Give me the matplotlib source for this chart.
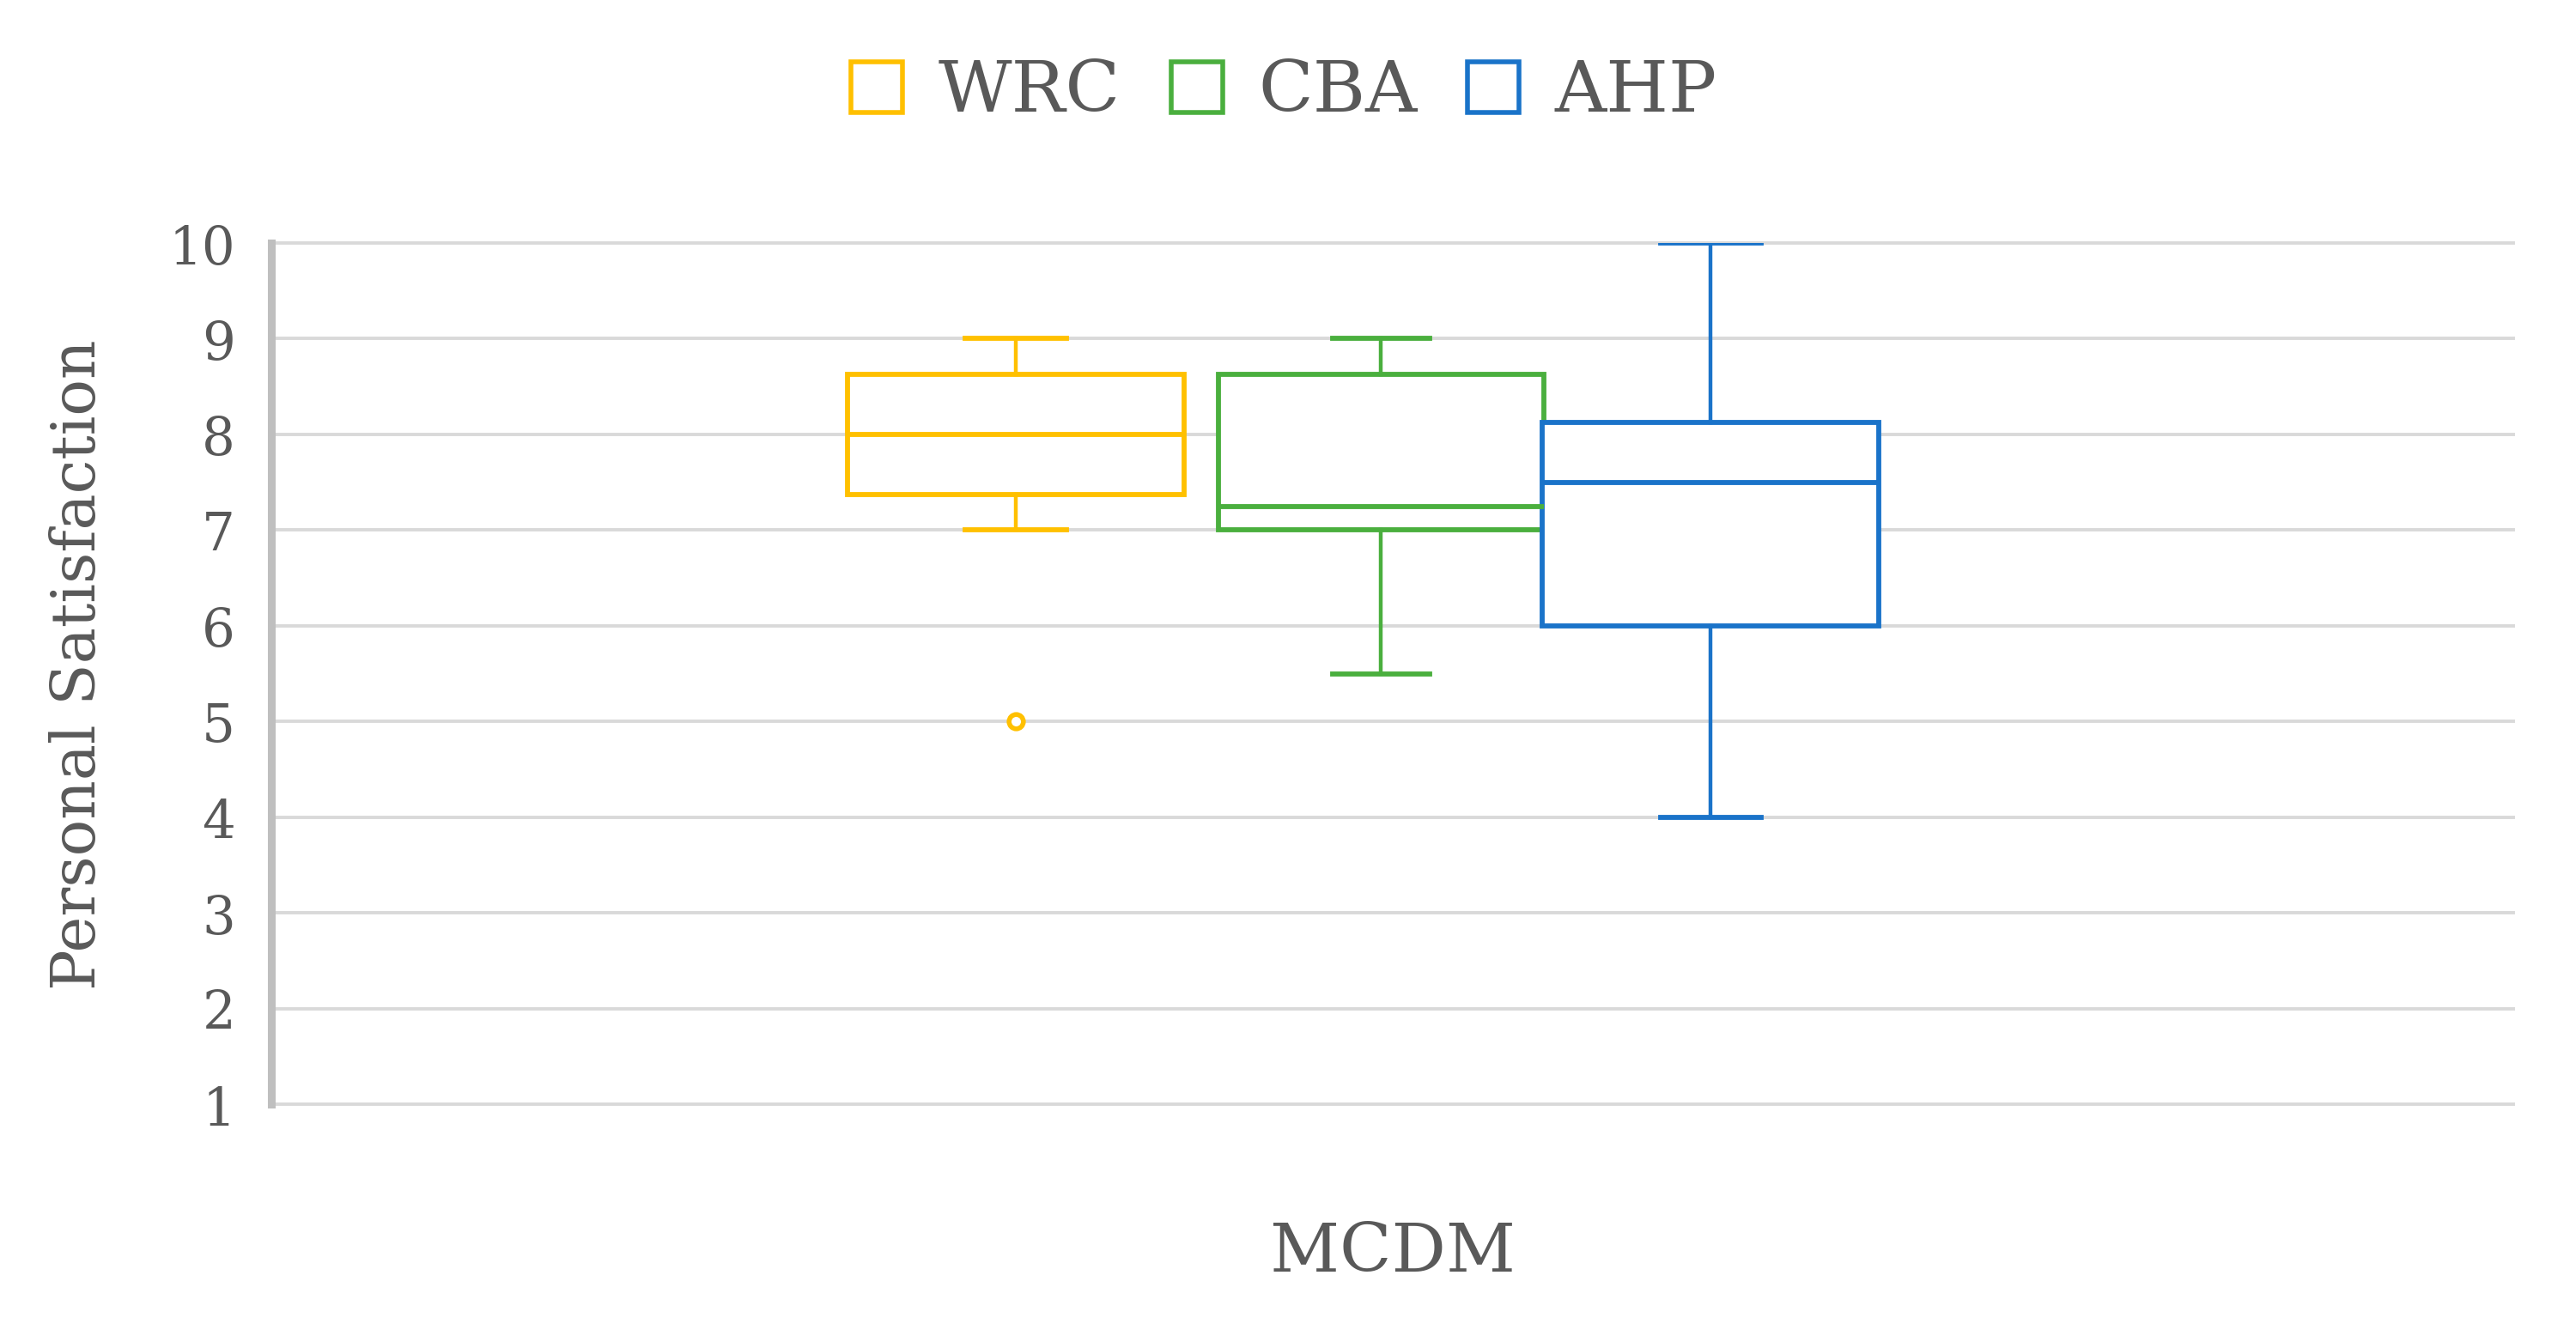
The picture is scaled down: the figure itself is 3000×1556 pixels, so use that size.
import matplotlib
matplotlib.use("Agg")
import matplotlib.pyplot as plt
from matplotlib.patches import Patch

# ---- data ----
categories = ["WRC", "CBA", "AHP"]
whisker_low = [7.0, 5.5, 4.0]
quartile_1 = [7.375, 7.0, 6.0]
medians = [8.0, 7.25, 7.5]
quartile_3 = [8.625, 8.625, 8.125]
whisker_high = [9.0, 9.0, 10.0]
outliers = [[5.0], [], []]
y_ticks = [1, 2, 3, 4, 5, 6, 7, 8, 9, 10]
x_label = "MCDM"
y_label = "Personal Satisfaction"

# ---- style / layout ----
colors = ["#FFC000", "#4AAF3E", "#1A73C9"]
positions = [0.332, 0.495, 0.642]
widths = [0.150, 0.145, 0.150]
text_color = "#595959"
font = "DejaVu Serif"

fig = plt.figure(figsize=(30, 15.56), dpi=100)
ax = fig.add_axes([0.1053, 0.1735, 0.8704, 0.6446])

stats = []
for i, name in enumerate(categories):
    stats.append(dict(label=name, whislo=whisker_low[i], q1=quartile_1[i],
                      med=medians[i], q3=quartile_3[i], whishi=whisker_high[i],
                      fliers=outliers[i]))

for i, st in enumerate(stats):
    c = colors[i]
    ax.bxp([st], positions=[positions[i]], widths=[widths[i]],
           capwidths=[widths[i] * 0.3], showfliers=True, patch_artist=True,
           boxprops=dict(facecolor="white", edgecolor=c, linewidth=4.2),
           medianprops=dict(color=c, linewidth=4.2),
           whiskerprops=dict(color=c, linewidth=3.2),
           capprops=dict(color=c, linewidth=4.2),
           flierprops=dict(marker="o", markerfacecolor="white",
                           markeredgecolor=c, markersize=12, markeredgewidth=4),
           manage_ticks=False, zorder=3)

ax.set_xlim(0, 1)
ax.set_ylim(1, 10)
ax.set_yticks(y_ticks)
ax.set_yticklabels([str(t) for t in y_ticks], fontfamily=font, fontsize=44,
                   color=text_color)
ax.set_xticks([])
ax.tick_params(axis="y", length=0, pad=30)
ax.yaxis.grid(True, color="#D9D9D9", linewidth=2.8, zorder=0)
for gl in ax.get_ygridlines():
    gl.set_clip_on(False)
ax.set_axisbelow(True)
for s in ["top", "right", "bottom"]:
    ax.spines[s].set_visible(False)
ax.spines["left"].set_color("#BFBFBF")
ax.spines["left"].set_linewidth(6.5)

ax.set_ylabel(y_label, fontfamily=font, fontsize=51, color=text_color, va="center")
ax.yaxis.set_label_coords(-0.086, 0.51)
ax.set_xlabel(x_label, fontfamily=font, fontsize=57, color=text_color, va="center")
ax.xaxis.set_label_coords(0.5, -0.173)

handles = [Patch(facecolor="white", edgecolor=c, linewidth=4) for c in colors]
leg = fig.legend(handles, categories, loc="center", bbox_to_anchor=(0.4985, 0.931),
                 ncol=3, frameon=False, handlelength=0.72, handleheight=0.72,
                 handletextpad=0.5, columnspacing=0.7,
                 prop=dict(family=font, size=60))
for t in leg.get_texts():
    t.set_color(text_color)

fig.savefig("out.png", dpi=100, facecolor="white")
